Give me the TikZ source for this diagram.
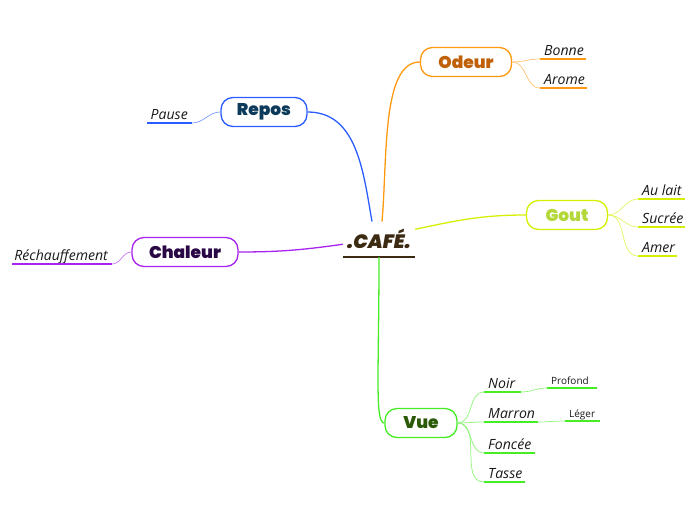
\documentclass[tikz,border=0pt]{standalone}
\usepackage{fontspec}
\setmainfont{Open Sans}
\newfontfamily\headfont{Poppins}[UprightFont={* Black}, BoldFont={* Black}, ItalicFont={* Black Italic}, BoldItalicFont={* Black Italic}]
\usetikzlibrary{
    positioning,
    calc
}
\definecolor{cafebrown}{HTML}{3C2A12}
\definecolor{reposblue}{HTML}{2A5CFF}
\definecolor{repostext}{HTML}{0B3A5A}
\definecolor{odeurorange}{HTML}{FF9A10}
\definecolor{odeurtext}{HTML}{C0610A}
\definecolor{goutyellow}{HTML}{D4F000}
\definecolor{gouttext}{HTML}{B4D83A}
\definecolor{chaleurpurple}{HTML}{A822F0}
\definecolor{chaleurtext}{HTML}{2A0845}
\definecolor{vuegreen}{HTML}{44EE22}
\definecolor{vuetext}{HTML}{2A5A08}

\begin{document}
\begin{tikzpicture}[
        x=0.3mm, y=-0.3mm,
        topic/.style={draw=#1, fill=white, line width=1.1pt, rounded corners=3.6mm, minimum height=8.7mm, font=\headfont\fontsize{14.5}{16}\selectfont},
        branch/.style={line width=1.1pt, draw=#1},
        twig/.style={line width=0.6pt, draw=#1!60},
        leaf/.style={font=\itshape\fontsize{12}{14}\selectfont, text=black!90, inner xsep=1.2mm, inner ysep=1.1mm, text depth=0pt},
        small/.style={font=\fontsize{8.5}{10}\selectfont, text=black!90, inner xsep=1.2mm, inner ysep=1.1mm, text depth=0pt},
        uline/.style={line width=1.5pt, draw=#1}
    ]
        \useasboundingbox[fill=white] (0,0) rectangle (696,520);

        % Centre
        \node[font=\headfont\itshape\fontsize{16.5}{19}\selectfont, text=cafebrown, minimum width=21.6mm, minimum height=10.5mm, anchor=south] (cafe) at (379,257) {.CAFÉ.};
        \draw[uline=cafebrown] (cafe.south west) -- (cafe.south east);

        % Main topics
        \node[topic=reposblue, text=repostext, minimum width=25.8mm] (repos) at (264,112) {Repos};
        \node[topic=odeurorange, text=odeurtext, minimum width=27.3mm] (odeur) at (466,62) {Odeur};
        \node[topic=goutyellow, text=gouttext, minimum width=24.3mm] (gout) at (567,215) {Gout};
        \node[topic=chaleurpurple, text=chaleurtext, minimum width=31.8mm] (chaleur) at (185,252) {Chaleur};
        \node[topic=vuegreen, text=vuetext, minimum width=21.6mm] (vue) at (421,423) {Vue};

        % Leaves
        \node[leaf, anchor=south east] (pause) at (192,123) {Pause};
        \node[leaf, anchor=south east] (rech) at (112,264) {Réchauffement};
        \node[leaf, anchor=south west] (bonne) at (540,59) {Bonne};
        \node[leaf, anchor=south west] (arome) at (540,88) {Arome};
        \node[leaf, anchor=south west] (aulait) at (638,199) {Au lait};
        \node[leaf, anchor=south west] (sucree) at (638,227) {Sucrée};
        \node[leaf, anchor=south west] (amer) at (638,256) {Amer};
        \node[leaf, anchor=south west] (noir) at (484,392) {Noir};
        \node[leaf, anchor=south west] (marron) at (484,422) {Marron};
        \node[leaf, anchor=south west] (foncee) at (484,453) {Foncée};
        \node[leaf, anchor=south west] (tasse) at (484,482) {Tasse};
        \node[small, anchor=south west] (profond) at (547,388) {Profond};
        \node[small, anchor=south west] (leger) at (565,421) {Léger};

        % Underlines
        \draw[uline=reposblue] (pause.south east) -- ++(-45,0);
        \draw[uline=chaleurpurple] (rech.south east) -- ++(-100,0);
        \foreach \n/\l in {bonne/46, arome/47} {
            \draw[uline=odeurorange] (\n.south west) -- ++(\l,0);
        }
        \foreach \n/\l in {aulait/47, sucree/47, amer/39} {
            \draw[uline=goutyellow] (\n.south west) -- ++(\l,0);
        }
        \foreach \n/\l in {foncee/51, tasse/41, profond/50, leger/35} {
            \draw[uline=vuegreen] (\n.south west) -- ++(\l,0);
        }
        \draw[uline=vuegreen] (noir.south west) -- ++(37,0) coordinate (noirend);
        \draw[uline=vuegreen] (marron.south west) -- ++(54,0) coordinate (marronend);

        % Branches
        \draw[branch=reposblue] ([xshift=-2.1mm]cafe.north) to[out=100,in=0] (repos.east);
        \draw[branch=odeurorange] ([xshift=0.9mm]cafe.north) to[out=85,in=180,in looseness=0.6] (odeur.west);
        \draw[branch=goutyellow] ([yshift=3mm]cafe.east) to[out=12,in=180] (gout.west);
        \draw[branch=chaleurpurple] ([yshift=-1.5mm]cafe.west) to[out=188,in=0] (chaleur.east);
        \draw[branch=vuegreen] (cafe.south) to[out=-90,in=180,out looseness=1.8,in looseness=0.15] (vue.west);

        % Twigs
        \draw[twig=reposblue] (repos.west) to[out=180,in=0] (pause.south east);
        \draw[twig=chaleurpurple] (chaleur.west) to[out=180,in=0] (rech.south east);
        \foreach \n in {bonne, arome} {
            \draw[twig=odeurorange] (odeur.east) to[out=0,in=180] (\n.south west);
        }
        \foreach \n in {aulait, sucree, amer} {
            \draw[twig=goutyellow] (gout.east) to[out=0,in=180] (\n.south west);
        }
        \foreach \n in {noir, marron, foncee, tasse} {
            \draw[twig=vuegreen] (vue.east) to[out=0,in=180] (\n.south west);
        }
        \draw[twig=vuegreen] (noirend) to[out=0,in=180] (profond.south west);
        \draw[twig=vuegreen] (marronend) to[out=0,in=180] (leger.south west);

    \end{tikzpicture}
\end{document}
